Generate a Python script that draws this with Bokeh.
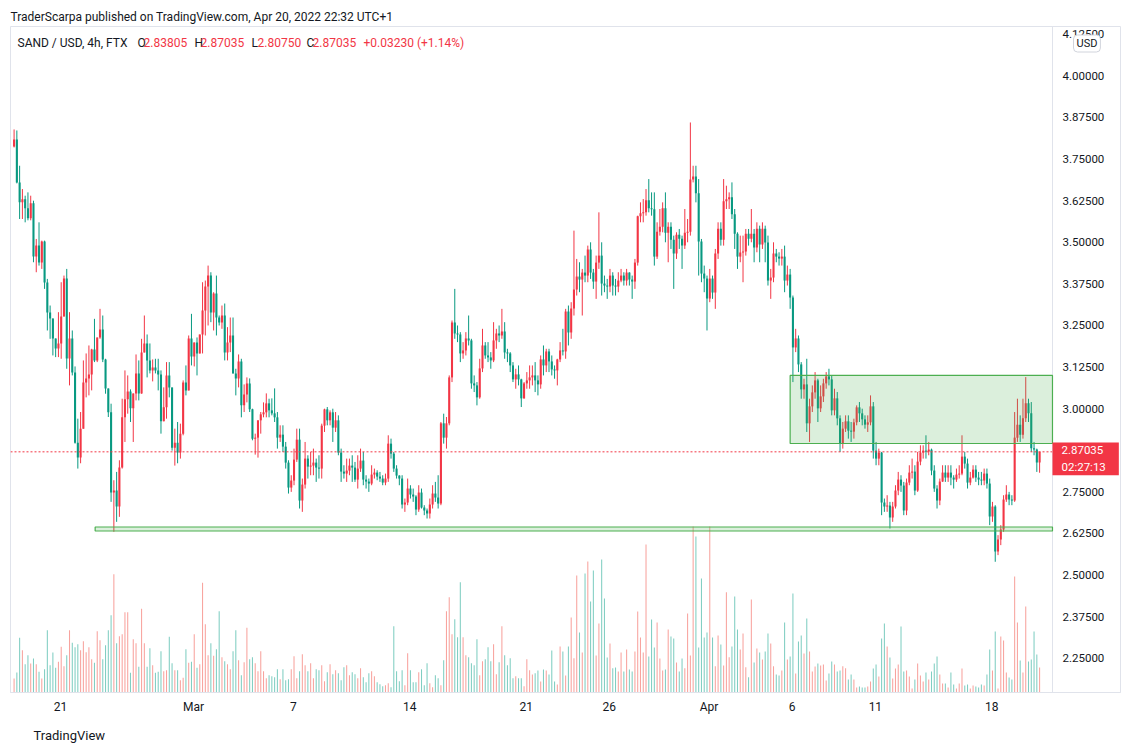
import pandas as pd
from bokeh.plotting import figure
from bokeh.models import (ColumnDataSource, Range1d, LinearAxis, FixedTicker,
                          PrintfTickFormatter, Span, BoxAnnotation, Label, Title)
from bokeh.embed import file_html
from bokeh.resources import INLINE

# ---------------- data (SAND/USD, 4h, FTX) ----------------
LAST_BAR = "2022-04-20 21:00"
FIRST_OPEN = 3.788

closes = [
3.809,3.680,3.620,3.629,3.602,3.572,3.617,3.457,3.490,3.439,
3.502,3.379,3.289,3.271,3.211,3.181,3.196,3.277,3.391,3.151,
3.211,3.109,2.898,2.853,2.940,3.079,3.091,3.103,3.178,3.145,
3.214,3.238,3.148,3.061,2.989,2.748,2.754,2.706,2.823,2.974,
3.028,3.052,3.001,3.046,3.106,3.046,3.169,3.196,3.145,3.115,
3.124,3.115,3.103,2.962,3.004,3.100,3.064,2.883,2.898,2.868,
2.925,3.079,3.055,3.211,3.157,3.199,3.166,3.223,3.295,3.367,
3.400,3.289,3.346,3.274,3.259,3.280,3.169,3.199,3.220,3.106,
3.091,3.142,3.010,3.043,3.076,2.998,2.910,2.913,2.965,2.983,
2.989,3.016,2.995,2.986,2.974,2.913,2.922,2.886,2.838,2.763,
2.784,2.847,2.907,2.724,2.772,2.850,2.826,2.829,2.838,2.823,
2.820,2.949,2.998,2.965,2.989,2.943,2.965,2.868,2.811,2.805,
2.814,2.829,2.823,2.787,2.820,2.844,2.787,2.781,2.775,2.802,
2.808,2.796,2.790,2.778,2.790,2.895,2.865,2.820,2.799,2.790,
2.712,2.718,2.760,2.742,2.736,2.697,2.748,2.703,2.694,2.685,
2.712,2.745,2.733,2.715,2.956,2.913,2.956,3.094,3.259,3.226,
3.223,3.166,3.175,3.211,3.205,3.076,3.070,3.034,3.121,3.190,
3.160,3.154,3.145,3.205,3.226,3.220,3.232,3.169,3.166,3.130,
3.088,3.103,3.088,3.031,3.076,3.085,3.094,3.100,3.085,3.073,
3.148,3.130,3.172,3.142,3.118,3.115,3.148,3.175,3.172,3.292,
3.229,3.301,3.358,3.397,3.388,3.409,3.400,3.478,3.409,3.382,
3.439,3.460,3.376,3.370,3.367,3.400,3.370,3.367,3.385,3.400,
3.385,3.409,3.388,3.382,3.439,3.578,3.587,3.590,3.626,3.602,
3.599,3.457,3.532,3.547,3.602,3.529,3.547,3.508,3.466,3.523,
3.511,3.490,3.529,3.532,3.689,3.698,3.647,3.502,3.406,3.391,
3.331,3.391,3.349,3.466,3.541,3.508,3.623,3.629,3.635,3.584,
3.526,3.457,3.469,3.472,3.526,3.511,3.526,3.484,3.541,3.493,
3.541,3.499,3.385,3.394,3.466,3.457,3.451,3.457,3.385,3.403,
3.334,3.184,3.211,3.133,3.058,3.073,2.956,3.007,3.049,3.085,
3.001,3.037,3.076,3.097,3.088,2.995,3.031,2.971,2.895,2.940,
2.962,2.934,2.931,2.959,3.004,2.986,2.968,2.952,2.959,3.007,
2.874,2.850,2.868,2.718,2.706,2.709,2.673,2.706,2.754,2.787,
2.769,2.694,2.778,2.808,2.811,2.754,2.841,2.868,2.874,2.871,
2.877,2.814,2.760,2.724,2.781,2.808,2.793,2.808,2.793,2.787,
2.802,2.805,2.856,2.835,2.778,2.793,2.817,2.793,2.787,2.784,
2.805,2.775,2.676,2.706,2.571,2.607,2.637,2.727,2.742,2.727,
2.724,2.913,2.952,2.922,2.971,3.016,2.986,2.881,2.877,2.83805,
2.87035]

highs = [
3.839,3.836,3.730,3.660,3.640,3.650,3.640,3.625,3.510,3.560,
3.505,3.505,3.390,3.310,3.270,3.211,3.290,3.380,3.400,3.420,
3.290,3.235,3.127,2.970,2.990,3.145,3.166,3.190,3.180,3.270,
3.214,3.300,3.280,3.150,3.061,3.015,2.785,2.810,2.845,3.030,
3.115,3.100,3.058,3.046,3.163,3.145,3.210,3.280,3.223,3.196,
3.148,3.150,3.150,3.115,3.064,3.140,3.140,3.064,2.940,2.960,
2.955,3.085,3.130,3.220,3.285,3.199,3.214,3.223,3.380,3.385,
3.430,3.410,3.350,3.400,3.280,3.310,3.316,3.245,3.274,3.274,
3.120,3.163,3.150,3.073,3.094,3.091,3.000,2.925,2.965,2.990,
3.019,3.046,3.030,3.031,3.061,2.990,2.950,2.950,2.900,2.845,
2.800,2.880,2.940,2.940,2.790,2.900,2.860,2.870,2.880,2.850,
2.860,2.955,3.000,3.005,2.995,3.000,2.990,2.980,2.880,2.830,
2.850,2.850,2.860,2.840,2.860,2.880,2.870,2.800,2.790,2.830,
2.820,2.815,2.810,2.800,2.805,2.920,2.910,2.870,2.830,2.800,
2.800,2.730,2.790,2.770,2.760,2.740,2.770,2.760,2.710,2.700,
2.730,2.770,2.780,2.800,2.960,2.985,2.975,3.100,3.265,3.360,
3.250,3.230,3.200,3.230,3.280,3.210,3.100,3.080,3.150,3.240,
3.200,3.200,3.170,3.260,3.240,3.250,3.300,3.260,3.180,3.170,
3.140,3.120,3.130,3.090,3.080,3.110,3.130,3.130,3.140,3.100,
3.160,3.190,3.180,3.180,3.160,3.130,3.150,3.200,3.240,3.300,
3.310,3.320,3.535,3.450,3.440,3.420,3.460,3.490,3.500,3.420,
3.460,3.590,3.500,3.400,3.390,3.420,3.410,3.390,3.410,3.420,
3.410,3.420,3.410,3.400,3.450,3.580,3.620,3.630,3.660,3.690,
3.650,3.650,3.560,3.600,3.620,3.650,3.560,3.560,3.520,3.530,
3.540,3.520,3.600,3.570,3.860,3.730,3.730,3.690,3.510,3.430,
3.400,3.420,3.400,3.480,3.560,3.560,3.690,3.670,3.650,3.680,
3.600,3.530,3.520,3.520,3.540,3.540,3.600,3.540,3.560,3.550,
3.560,3.550,3.520,3.420,3.500,3.480,3.470,3.480,3.490,3.430,
3.420,3.340,3.240,3.220,3.140,3.090,3.150,3.030,3.070,3.110,
3.090,3.070,3.090,3.110,3.120,3.100,3.060,3.050,2.980,2.960,
2.980,2.980,2.960,2.970,3.010,3.020,3.000,2.980,2.980,3.040,
3.020,2.900,2.880,2.870,2.730,2.740,2.720,2.720,2.770,2.810,
2.800,2.780,2.790,2.830,2.850,2.830,2.870,2.890,2.890,2.920,
2.900,2.880,2.830,2.770,2.790,2.830,2.830,2.830,2.830,2.800,
2.820,2.830,2.920,2.870,2.850,2.810,2.830,2.830,2.810,2.810,
2.820,2.820,2.790,2.720,2.710,2.620,2.650,2.740,2.770,2.750,
2.740,2.990,3.030,2.980,3.030,3.095,3.030,3.020,2.900,2.880,
2.87035]

lows = [
3.785,3.677,3.570,3.570,3.560,3.566,3.566,3.440,3.410,3.430,
3.420,3.360,3.235,3.210,3.160,3.155,3.155,3.150,3.280,3.120,
3.070,3.100,2.895,2.820,2.836,2.940,3.034,3.040,3.055,3.140,
3.140,3.210,3.140,3.045,2.975,2.720,2.630,2.660,2.675,2.820,
2.900,2.985,2.960,2.900,3.025,3.025,3.045,3.169,3.094,3.106,
3.082,3.106,3.055,2.925,2.962,2.970,3.034,2.874,2.829,2.836,
2.850,2.920,3.040,3.055,3.130,3.127,3.100,3.166,3.166,3.220,
3.250,3.260,3.235,3.220,3.250,3.240,3.145,3.145,3.170,3.106,
3.040,3.064,2.974,2.990,3.019,2.990,2.905,2.862,2.853,2.925,
2.974,2.974,2.974,2.980,2.960,2.880,2.900,2.870,2.820,2.745,
2.750,2.770,2.840,2.700,2.690,2.760,2.790,2.800,2.800,2.780,
2.790,2.790,2.930,2.950,2.950,2.900,2.930,2.860,2.780,2.790,
2.780,2.800,2.780,2.780,2.760,2.810,2.770,2.760,2.750,2.770,
2.790,2.785,2.780,2.770,2.770,2.780,2.850,2.810,2.790,2.770,
2.700,2.690,2.710,2.730,2.720,2.680,2.690,2.700,2.680,2.670,
2.670,2.700,2.720,2.700,2.710,2.895,2.880,2.950,3.080,3.210,
3.200,3.140,3.150,3.160,3.190,3.060,3.050,3.010,3.030,3.110,
3.150,3.140,3.120,3.140,3.180,3.200,3.210,3.150,3.140,3.110,
3.080,3.060,3.070,3.005,3.030,3.060,3.060,3.070,3.050,3.040,
3.060,3.100,3.110,3.110,3.100,3.090,3.070,3.140,3.160,3.150,
3.190,3.210,3.280,3.340,3.350,3.280,3.380,3.380,3.390,3.360,
3.330,3.420,3.340,3.350,3.330,3.350,3.340,3.340,3.350,3.380,
3.370,3.370,3.370,3.330,3.360,3.430,3.560,3.560,3.580,3.590,
3.580,3.430,3.450,3.520,3.530,3.500,3.440,3.480,3.360,3.450,
3.480,3.420,3.480,3.500,3.520,3.680,3.620,3.400,3.380,3.350,
3.235,3.320,3.330,3.300,3.450,3.490,3.490,3.600,3.600,3.570,
3.480,3.420,3.440,3.380,3.460,3.490,3.500,3.440,3.470,3.440,
3.480,3.440,3.370,3.330,3.380,3.440,3.430,3.430,3.350,3.370,
3.300,3.080,3.170,3.110,3.030,3.030,2.930,2.900,2.990,3.030,
2.960,2.990,3.020,3.060,3.070,2.980,2.980,2.950,2.870,2.880,
2.930,2.910,2.900,2.910,2.950,2.960,2.950,2.940,2.930,2.950,
2.850,2.830,2.830,2.680,2.690,2.690,2.640,2.660,2.700,2.740,
2.750,2.680,2.680,2.770,2.790,2.740,2.750,2.830,2.850,2.850,
2.860,2.800,2.750,2.700,2.710,2.780,2.780,2.780,2.770,2.760,
2.780,2.790,2.800,2.820,2.760,2.770,2.790,2.780,2.770,2.770,
2.770,2.760,2.650,2.660,2.540,2.560,2.590,2.630,2.720,2.710,
2.710,2.720,2.900,2.900,2.910,2.960,2.960,2.870,2.860,2.810,
2.8075]

volumes = [
42,60,164,127,85,112,87,102,85,62,
42,70,187,82,120,74,92,137,79,112,
187,149,136,145,127,154,121,136,100,89,
184,157,100,142,187,232,355,148,169,175,
241,241,59,160,148,77,251,148,77,133,
82,59,62,124,64,67,167,88,67,67,
37,44,130,89,92,175,74,85,329,205,
112,148,110,130,244,106,94,85,70,124,
187,97,52,91,194,100,106,88,64,124,
64,43,52,49,46,70,40,70,37,40,
70,109,43,64,115,82,64,88,43,70,
67,82,34,61,85,55,67,58,37,76,
82,52,61,55,43,73,46,31,58,64,
49,31,25,19,22,28,16,199,64,34,
67,22,118,67,31,31,61,70,22,88,
28,16,52,43,22,97,244,286,175,220,
166,331,166,112,106,88,82,160,52,94,
100,136,94,145,55,91,199,112,82,103,
43,49,43,43,19,100,67,
54,58,66,33,69,66,54,126,33,24,
138,123,51,138,225,103,351,180,120,357,
393,273,366,111,207,399,282,105,147,73,
75,63,120,63,129,69,63,123,243,165,
120,444,108,219,135,210,102,66,69,189,
168,162,90,63,102,73,237,111,498,468,
135,342,165,180,498,165,79,171,144,81,
301,106,138,288,189,129,177,76,46,279,
90,132,120,99,123,177,147,79,54,51,
66,210,99,108,297,57,153,171,117,222,
123,63,78,87,81,84,36,57,93,84,
63,66,79,73,39,54,39,15,18,15,
15,18,33,72,84,48,162,207,138,105,
42,72,84,198,63,66,48,12,39,87,
51,33,60,39,63,87,108,54,27,27,
15,60,24,12,27,72,21,24,12,21,
18,15,24,21,54,129,66,183,12,168,
156,60,45,39,348,210,96,60,258,93,
99,183,114,75]

price_ticks = [2.25, 2.375, 2.5, 2.625, 2.75, 2.875, 3.0, 3.125, 3.25,
               3.375, 3.5, 3.625, 3.75, 3.875, 4.0, 4.125]
date_ticks = ["2022-02-21", "2022-03-01", "2022-03-07", "2022-03-14", "2022-03-21",
              "2022-03-26", "2022-04-01", "2022-04-06", "2022-04-11", "2022-04-18"]
date_labels = ["21", "Mar", "7", "14", "21", "26", "Apr", "6", "11", "18"]

# drawn zones (annotations)
zone_upper = dict(left="2022-04-05 21:00", top=3.0998, bottom=2.8954)
zone_lower = dict(left="2022-02-23 02:00", top=2.6445, bottom=2.6325)

HEADER = "TraderScarpa published on TradingView.com, Apr 20, 2022 22:32 UTC+1"
SYMBOL = "SAND / USD, 4h, FTX"
COUNTDOWN = "02:27:13"
FOOTER = "TradingView"

# ---------------- styles ----------------
UP = "#F23645"      # rising candles drawn red on this chart
DOWN = "#089981"
UP_VOL = "#f8a39e"
DOWN_VOL = "#80cec2"
TXT = "#131722"
GRID = "#e0e3eb"
FONT = "Roboto"

n = len(closes)
opens = [FIRST_OPEN] + closes[:-1]
hi = [max(h, o, c) for h, o, c in zip(highs, opens, closes)]
lo = [min(l, o, c) for l, o, c in zip(lows, opens, closes)]
times = pd.date_range(end=LAST_BAR, periods=n, freq="4h")
is_up = [c >= o for o, c in zip(opens, closes)]

src = ColumnDataSource(dict(
    t=times, h=hi, l=lo,
    top=[max(o, c) for o, c in zip(opens, closes)],
    bottom=[min(o, c) for o, c in zip(opens, closes)],
    color=[UP if u else DOWN for u in is_up],
    vcolor=[UP_VOL if u else DOWN_VOL for u in is_up],
    vol=volumes,
))

def ms(s):
    return pd.Timestamp(s).value // 10**6

bar_ms = 4 * 3600 * 1000
day_ms = 24 * 3600 * 1000
ref = ms("2022-02-21")
x0 = ref - 3.007 * day_ms          # left edge of chart
x_sep = ref + 59.65 * day_ms       # chart / price-scale separator
x1 = ref + 63.74 * day_ms          # right edge of price scale

p = figure(width=1122, height=752, x_range=Range1d(x0, x1),
           y_range=Range1d(2.1472, 4.1484), x_axis_type=None, y_axis_type=None,
           output_backend="svg", toolbar_location=None,
           min_border_left=10, min_border_right=2, min_border_top=26,
           min_border_bottom=60, outline_line_color=GRID,
           background_fill_color="white", border_fill_color="white")
p.extra_y_ranges = {"vol": Range1d(0, 1998)}

# header as title
p.add_layout(Title(text=HEADER, align="left", text_font=FONT, text_font_size="12px",
                   text_font_style="normal", text_color=TXT, offset=0, standoff=6), "above")

# price scale (labels inside the right-hand strip)
yax = LinearAxis(ticker=FixedTicker(ticks=price_ticks),
                 formatter=PrintfTickFormatter(format="%.5f"))
yax.major_tick_line_color = None
yax.minor_tick_line_color = None
yax.major_tick_out = 0
yax.major_tick_in = 0
yax.axis_line_color = None
yax.major_label_text_font = FONT
yax.major_label_text_font_size = "11.5px"
yax.major_label_text_color = TXT
yax.major_label_standoff = -58
p.add_layout(yax, "right")

tick_ms = [ms(d) for d in date_ticks]
xax = LinearAxis(ticker=FixedTicker(ticks=tick_ms),
                 major_label_overrides={t: lab for t, lab in zip(tick_ms, date_labels)})
xax.major_tick_line_color = None
xax.minor_tick_line_color = None
xax.major_tick_out = 0
xax.major_tick_in = 0
xax.axis_line_color = GRID
xax.major_label_text_font = FONT
xax.major_label_text_font_size = "12px"
xax.major_label_text_color = TXT
xax.major_label_standoff = 7
p.add_layout(xax, "below")

p.add_layout(Title(text=FOOTER, align="left", text_font=FONT, text_font_size="13px",
                   text_font_style="normal", text_color=TXT, offset=23, standoff=19), "below")

p.add_layout(Span(location=x_sep, dimension="height", line_color=GRID, line_width=1))

# volume
p.vbar(x="t", top="vol", bottom=0, width=bar_ms * 0.38, fill_color="vcolor",
       line_color=None, y_range_name="vol", source=src)

# zones
for z in (zone_upper, zone_lower):
    p.add_layout(BoxAnnotation(left=ms(z["left"]), right=x_sep, top=z["top"], bottom=z["bottom"],
                               fill_color="#4caf50", fill_alpha=0.2,
                               line_color="#4caf50", line_width=1.2, line_alpha=1.0))

# candles
p.segment(x0="t", y0="h", x1="t", y1="l", line_color="color", line_width=1, source=src)
p.vbar(x="t", top="top", bottom="bottom", width=bar_ms * 0.75, fill_color="color",
       line_color=None, source=src)

last_c = closes[-1]
p.segment(x0=[x0], y0=[last_c], x1=[x_sep], y1=[last_c], line_color=UP,
          line_dash="2 2", line_width=1)

# legend texts
def lab(x, y, text, color=TXT, size="12px", **kw):
    p.add_layout(Label(x=x, y=y, x_units="screen", y_units="screen", text=text,
                       text_color=color, text_font=FONT, text_font_size=size,
                       text_baseline="middle", **kw))

chg = closes[-1] - closes[-2]
lab(7, 650, SYMBOL)
pieces = [("O", opens[-1], 127), ("H", hi[-1], 184), ("L", lo[-1], 241), ("C", closes[-1], 296)]
for letter, v, xx in pieces:
    lab(xx, 650, letter)
    lab(xx + 6, 650, "%.5f" % v, color=UP)
lab(353, 650, "%+.5f (%+.2f%%)" % (chg, chg / closes[-2] * 100), color=UP)

lab(1063, 649, "USD", size="11px", background_fill_color="white",
    border_line_color="#d1d4dc", border_radius=4,
    padding=dict(left=3, right=3, top=2, bottom=2))

p.add_layout(Label(x=x_sep, y=last_c, x_units="data", y_units="data",
                   text="%.5f\n%s" % (last_c, COUNTDOWN), text_color="white",
                   text_font=FONT, text_font_size="11.5px", text_baseline="middle",
                   y_offset=-7, background_fill_color=UP,
                   padding=dict(left=9, right=13, top=1, bottom=1)))

open("out.html", "w").write(file_html(p, INLINE))
